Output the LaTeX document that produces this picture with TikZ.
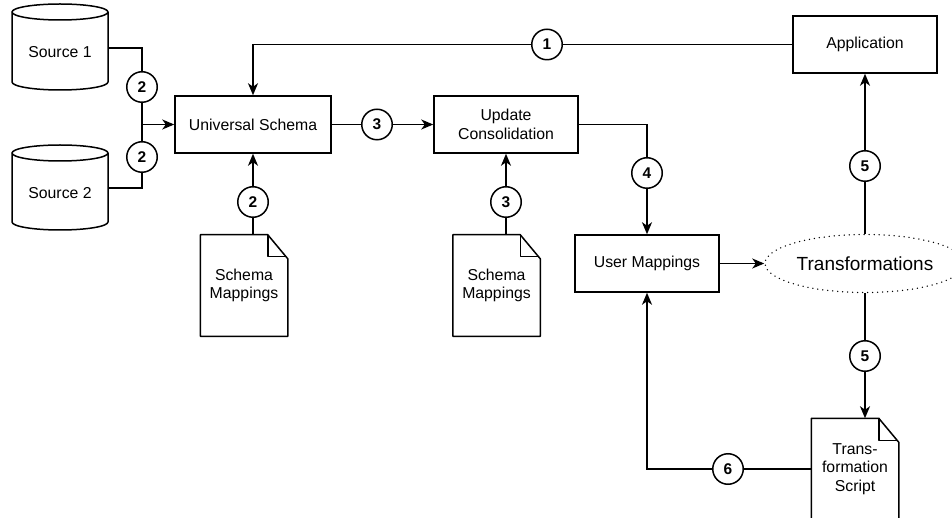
\documentclass[tikz,border=0pt]{standalone}
\usepackage{fontspec}
\setmainfont{Liberation Sans}
\usetikzlibrary{arrows.meta,shapes.geometric}
\begin{document}
\begin{tikzpicture}[x=1pt,y=-1pt,
  line width=1.5pt,
  base/.style={font=\fontsize{15.8}{18.6}\selectfont, align=center, inner sep=0pt},
  box/.style={base, draw, minimum width=144pt, minimum height=57pt},
  docnode/.style={base, minimum width=86pt, minimum height=100pt},
  cyltext/.style={base, minimum width=96pt, minimum height=70pt},
  numc/.style={circle, draw, fill=white, minimum size=30.5pt, inner sep=0pt, font=\bfseries\fontsize{15.5}{17}\selectfont},
  conn/.style={-{Stealth[length=12pt,width=10pt,inset=3.5pt]}},
  ]
\useasboundingbox (0,0) rectangle (952,518);
\fill[white] (0,0) rectangle (952,518);

% cylinders
\draw (12,12) -- (12,82) arc[start angle=180,end angle=360,x radius=48pt,y radius=8pt] -- (108,12)
  arc[start angle=0,end angle=180,x radius=48pt,y radius=8pt]
  arc[start angle=180,end angle=360,x radius=48pt,y radius=8pt];
\draw (12,153) -- (12,222) arc[start angle=180,end angle=360,x radius=48pt,y radius=8pt] -- (108,153)
  arc[start angle=0,end angle=180,x radius=48pt,y radius=8pt]
  arc[start angle=180,end angle=360,x radius=48pt,y radius=8pt];
\node[cyltext] (s1) at (60,52) {Source 1};
\node[cyltext] (s2) at (60,193) {Source 2};

% boxes
\node[box, minimum width=156pt] (us) at (253,124.5) {Universal Schema};
\node[box] (uc) at (506,124.5) {Update\\Consolidation};
\node[box] (app) at (865,44.5) {Application};
\node[box] (um) at (647,263.5) {User Mappings};
\node[ellipse, draw, line width=1.5pt, dash pattern=on 0pt off 5pt, line cap=round,
  minimum width=200pt, minimum height=58pt, inner sep=0pt,
  font=\fontsize{19}{22}\selectfont] (tr) at (865,263.5) {Transformations};

% documents
\node[docnode] (d1) at (244,285.5) {Schema\\Mappings};
\node[docnode] (d2) at (496.5,285.5) {Schema\\Mappings};
\node[docnode] (d3) at (855,469) {Trans-\\formation\\Script};
\foreach \d in {d1,d2,d3}{
  \draw[line join=round] (\d.north west) -- ([xshift=-20pt]\d.north east) -- ([yshift=-24pt]\d.north east)
    -- (\d.south east) -- (\d.south west) -- cycle;
  \draw[line join=round] ([xshift=-20pt]\d.north east) -- ([xshift=-20pt,yshift=-22pt]\d.north east)
    -- ([xshift=-1.5pt,yshift=-22pt]\d.north east);
}

% connectors
\coordinate (j) at (142,124.5);
\draw ([yshift=4pt]s1.east) -| (j);
\draw ([yshift=5pt]s2.east) -| (j);
\draw[conn] (j) -- (us.west);
\draw[conn] (app.west) -| (us.north);
\draw[conn] (us.east) -- (uc.west);
\draw[conn] (d1.north -| us.south) -- (us.south);
\draw[conn] (d2.north -| uc.south) -- (uc.south);
\draw[conn] (uc.east) -| (um.north);
\draw[conn] (um.east) -- (tr.west);
\draw[conn] (tr.north) -- (app.south);
\draw[conn] (tr.south) -- (tr.south |- d3.north);
\draw[conn] (d3.west) -| (um.south);

% number markers
\node[numc] (n1) at (547,44.5) {1};
\node[numc] (n2a) at (142,87) {2};
\node[numc] (n2b) at (142,157) {2};
\node[numc] (n2c) at (253,202) {2};
\node[numc] (n3a) at (377,124.5) {3};
\node[numc] (n3b) at (506,202) {3};
\node[numc] (n4) at (647,173) {4};
\node[numc] (n5a) at (865,166) {5};
\node[numc] (n5b) at (865,356) {5};
\node[numc] (n6) at (728,469) {6};
\end{tikzpicture}
\end{document}
